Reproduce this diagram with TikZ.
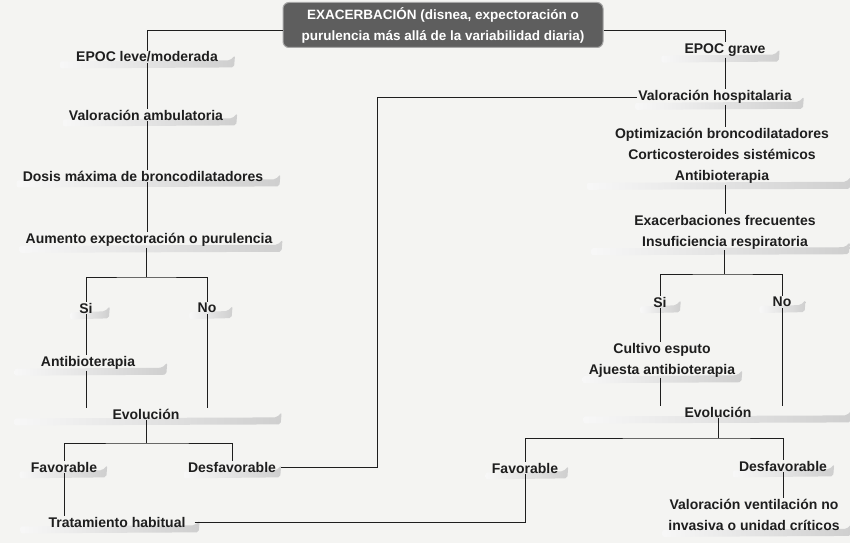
\documentclass[tikz,border=0pt]{standalone}
\usepackage{fontspec}
\setmainfont{Liberation Sans}
\usetikzlibrary{backgrounds}
\definecolor{ink}{HTML}{1E1E1E}
\definecolor{paper}{HTML}{F4F4F2}
\definecolor{titlebg}{HTML}{5E5E5E}
\tikzset{
  lbl/.style={font=\bfseries\fontsize{14}{21}\selectfont, text=ink, inner sep=1pt, align=center},
  titlebox/.style={font=\bfseries\fontsize{13.5}{21}\selectfont, text=white, fill=titlebg, draw=gray!70, line width=1pt,
    rounded corners=6pt, align=center, minimum width=320pt, minimum height=45pt, inner sep=2pt},
  conn/.style={draw=ink, line width=1pt},
  barfill/.style={left color=gray!6, right color=gray!38}
}
\newcommand\shbar[3]{%
  \path[barfill, rounded corners=2pt] ([xshift=-#2,yshift=-5pt]#1.south west) -- ([xshift=#3,yshift=-4pt]#1.south east)
    -- ([xshift=#3+1pt,yshift=8pt]#1.south east) -- ([xshift=#3-4pt,yshift=3pt]#1.south east) -- ([xshift=-#2,yshift=2pt]#1.south west) -- cycle;}
\begin{document}
\begin{tikzpicture}[x=1pt,y=-1pt]
\useasboundingbox (0,0) rectangle (850,543);

% title
\node[titlebox] (title) at (443,25) {EXACERBACIÓN (disnea, expectoración o\\purulencia más allá de la variabilidad diaria)};

% left column
\node[lbl] (leve) at (147,57) {EPOC leve/moderada};
\node[lbl] (amb) at (146,115) {Valoración ambulatoria};
\node[lbl] (dosis) at (143,176) {Dosis máxima de broncodilatadores};
\node[lbl] (aum) at (149,240) {Aumento expectoración o purulencia};
\node[lbl] (si1) at (86,308) {Si};
\node[lbl] (no1) at (207,308) {No};
\node[lbl] (anti1) at (88,363) {Antibioterapia};
\node[lbl] (evo1) at (146,414) {Evolución};
\node[lbl] (fav1) at (64,467) {Favorable};
\node[lbl] (des1) at (232,467) {Desfavorable};
\node[lbl] (trat) at (117,522) {Tratamiento habitual};

% right column
\node[lbl] (grave) at (725,50) {EPOC grave};
\node[lbl] (hosp) at (715,97) {Valoración hospitalaria};
\node[lbl] (opt) at (722,156) {Optimización broncodilatadores\\Corticosteroides sistémicos\\Antibioterapia};
\node[lbl] (exa) at (725,232) {Exacerbaciones frecuentes\\Insuficiencia respiratoria};
\node[lbl] (si2) at (660,302) {Si};
\node[lbl] (no2) at (782,302) {No};
\node[lbl] (cult) at (662,360) {Cultivo esputo\\Ajuesta antibioterapia};
\node[lbl] (evo2) at (718,412) {Evolución};
\node[lbl] (fav2) at (525,468) {Favorable};
\node[lbl] (des2) at (783,466) {Desfavorable};
\node[lbl] (vent) at (754,515) {Valoración ventilación no\\invasiva o unidad críticos};

\coordinate (b1) at (146,277);
\coordinate (b2) at (146,443);
\coordinate (b3) at (724,274);
\coordinate (b4) at (718,438);
\coordinate (c1) at (377,97);

\begin{scope}[on background layer]
\fill[paper] (0,0) rectangle (850,543);
\shbar{leve}{15pt}{15pt}
\shbar{amb}{5pt}{12pt}
\shbar{dosis}{5pt}{15pt}
\shbar{aum}{5pt}{8pt}
\shbar{si1}{8pt}{15pt}
\shbar{no1}{7pt}{14pt}
\shbar{anti1}{25pt}{30pt}
\shbar{evo1}{97pt}{100pt}
\shbar{fav1}{10pt}{8pt}
\shbar{des1}{3pt}{3pt}
\shbar{trat}{27pt}{12pt}
\shbar{grave}{22pt}{12pt}
\shbar{hosp}{2pt}{10pt}
\shbar{opt}{27pt}{20pt}
\shbar{exa}{42pt}{32pt}
\shbar{si2}{12pt}{12pt}
\shbar{no2}{12pt}{12pt}
\shbar{cult}{5pt}{5pt}
\shbar{evo2}{100pt}{98pt}
\shbar{fav2}{5pt}{8pt}
\shbar{des2}{5pt}{5pt}
\shbar{vent}{5pt}{10pt}
\end{scope}

% connectors
\draw[conn] ([yshift=-6pt]title.west) -| (leve.north);
\draw[conn] ([yshift=-6pt]title.east) -| (grave.north);

\draw[conn] (leve.south) -- (leve.south |- amb.north);
\draw[conn] (leve.south |- amb.south) -- (leve.south |- dosis.north);
\draw[conn] (leve.south |- dosis.south) -- (leve.south |- aum.north);
\draw[conn] (aum.south -| b1) -- (b1);
\draw[conn] (si1.north) |- (b1) -| (no1.north);
\draw[conn] (si1.south) -- (si1.south |- anti1.north);
\draw[conn] (si1.south |- anti1.south) -- (si1.south |- evo1.north);
\draw[conn] (no1.south) -- (no1.south |- evo1.north);
\draw[conn] (evo1.south) -- (b2);
\draw[conn] (fav1.north) |- (b2) -| (des1.north);
\draw[conn] (fav1.south) -- (fav1.south |- trat.north);
\draw[conn] ([xshift=4pt]des1.east) -| (c1) -- (hosp.west);
\draw[conn] ([xshift=8pt]trat.east) -| (fav2.south);

\draw[conn] (grave.south) -- (grave.south |- hosp.north);
\draw[conn] (grave.south |- hosp.south) -- (grave.south |- opt.north);
\draw[conn] (grave.south |- opt.south) -- (grave.south |- exa.north);
\draw[conn] (exa.south -| b3) -- (b3);
\draw[conn] (si2.north) |- (b3) -| (no2.north);
\draw[conn] (si2.south) -- (si2.south |- cult.north);
\draw[conn] (si2.south |- cult.south) -- (si2.south |- evo2.north);
\draw[conn] (no2.south) -- (no2.south |- evo2.north);
\draw[conn] (evo2.south) -- (b4);
\draw[conn] (fav2.north) |- (b4) -| (des2.north);
\draw[conn] (des2.south) -- (des2.south |- vent.north);
\end{tikzpicture}
\end{document}
